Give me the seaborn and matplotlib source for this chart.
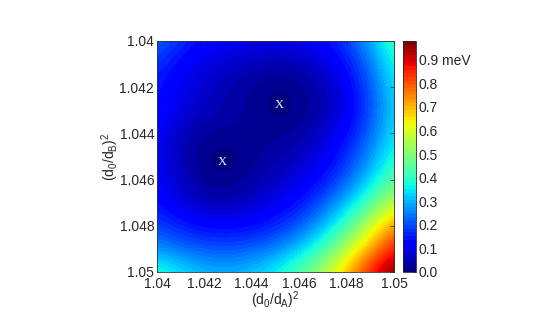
import numpy as np
import pandas as pd
import matplotlib
matplotlib.use('Agg')
import matplotlib.pyplot as plt
import seaborn as sns

# grid of energies (meV)
# rows: (d0/dB)^2 = 1.040 ... 1.050, columns: (d0/dA)^2 = 1.040 ... 1.050
xs = [1.040, 1.041, 1.042, 1.043, 1.044, 1.045, 1.046, 1.047, 1.048, 1.049, 1.050]
ys = [1.040, 1.041, 1.042, 1.043, 1.044, 1.045, 1.046, 1.047, 1.048, 1.049, 1.050]

row_1040 = [0.23, 0.17, 0.13, 0.11, 0.10, 0.10, 0.11, 0.13, 0.19, 0.29, 0.43]
row_1041 = [0.17, 0.12, 0.09, 0.07, 0.055, 0.04, 0.05, 0.08, 0.14, 0.24, 0.38]
row_1042 = [0.15, 0.10, 0.07, 0.045, 0.028, 0.01, 0.022, 0.05, 0.11, 0.21, 0.35]
row_1043 = [0.14, 0.09, 0.06, 0.04, 0.025, 0.003, 0.015, 0.045, 0.10, 0.20, 0.34]
row_1044 = [0.12, 0.055, 0.028, 0.025, 0.03, 0.025, 0.035, 0.07, 0.13, 0.23, 0.35]
row_1045 = [0.11, 0.05, 0.01, 0.003, 0.025, 0.04, 0.06, 0.10, 0.17, 0.27, 0.39]
row_1046 = [0.12, 0.06, 0.022, 0.015, 0.035, 0.06, 0.09, 0.14, 0.22, 0.33, 0.46]
row_1047 = [0.14, 0.09, 0.05, 0.045, 0.07, 0.10, 0.14, 0.21, 0.31, 0.44, 0.58]
row_1048 = [0.19, 0.15, 0.13, 0.125, 0.13, 0.16, 0.21, 0.30, 0.43, 0.58, 0.74]
row_1049 = [0.27, 0.23, 0.21, 0.20, 0.22, 0.25, 0.32, 0.42, 0.56, 0.72, 0.88]
row_1050 = [0.40, 0.35, 0.31, 0.30, 0.32, 0.37, 0.45, 0.55, 0.70, 0.88, 0.98]

# the two minima marked with X
min_x = [1.04274, 1.04515]
min_y = [1.04524, 1.04277]

cbar_ticks = [0.0, 0.1, 0.2, 0.3, 0.4, 0.5, 0.6, 0.7, 0.8, 0.9]
cbar_labels = ['0.0', '0.1', '0.2', '0.3', '0.4', '0.5', '0.6', '0.7', '0.8', '0.9 meV']
x_ticks = [1.040, 1.042, 1.044, 1.046, 1.048, 1.050]
x_labels = ['1.04', '1.042', '1.044', '1.046', '1.048', '1.05']

#%%
sns.set_style('white')
plt.rcParams['font.family'] = ['Liberation Sans', 'DejaVu Sans']
plt.rcParams['mathtext.fontset'] = 'custom'
plt.rcParams['mathtext.rm'] = 'Liberation Sans'
plt.rcParams['mathtext.default'] = 'rm'

Z = np.array([row_1040, row_1041, row_1042, row_1043, row_1044, row_1045,
              row_1046, row_1047, row_1048, row_1049, row_1050])
df = pd.DataFrame(Z, index=ys, columns=xs)

fig = plt.figure(figsize=(5.54, 3.18), dpi=100)
ax = fig.add_axes([0.2834, 0.1447, 0.4278, 0.7264])
cax = fig.add_axes([0.7274, 0.1447, 0.0235, 0.7264])

dx = (xs[1] - xs[0]) / 2
dy = (ys[1] - ys[0]) / 2
cmap = plt.get_cmap('jet', 64)
im = ax.imshow(df.values, cmap=cmap, vmin=0, vmax=0.98, aspect='auto',
               interpolation='bicubic', interpolation_stage='data',
               extent=(xs[0] - dx, xs[-1] + dx, ys[-1] + dy, ys[0] - dy),
               origin='upper')
ax.set_xlim(1.040, 1.050)
ax.set_ylim(1.050, 1.040)

for mx, my in zip(min_x, min_y):
    ax.text(mx, my, 'X', color='#f0f0f0', fontsize=9, family='Liberation Serif',
            ha='center', va='center')

ax.set_xticks(x_ticks)
ax.set_xticklabels(x_labels)
ax.set_yticks(x_ticks)
ax.set_yticklabels(x_labels)
ax.tick_params(direction='in', length=3, width=0.5, labelsize=10,
               top=True, right=True, pad=2)
ax.tick_params(axis='x', pad=3.5)
ax.set_xlabel(r'(d$_0$/d$_A$)$^2$', fontsize=10, labelpad=-1)
ax.set_ylabel(r'(d$_0$/d$_B$)$^2$', fontsize=10, labelpad=-1)
for s in ax.spines.values():
    s.set_linewidth(0.6)
    s.set_color('#333333')

cb = fig.colorbar(im, cax=cax, ticks=cbar_ticks)
cb.ax.set_yticklabels(cbar_labels)
cb.ax.tick_params(direction='in', length=2.5, width=0.5, labelsize=10, pad=2)
cb.outline.set_linewidth(0.6)

fig.savefig('out.png', dpi=100)
